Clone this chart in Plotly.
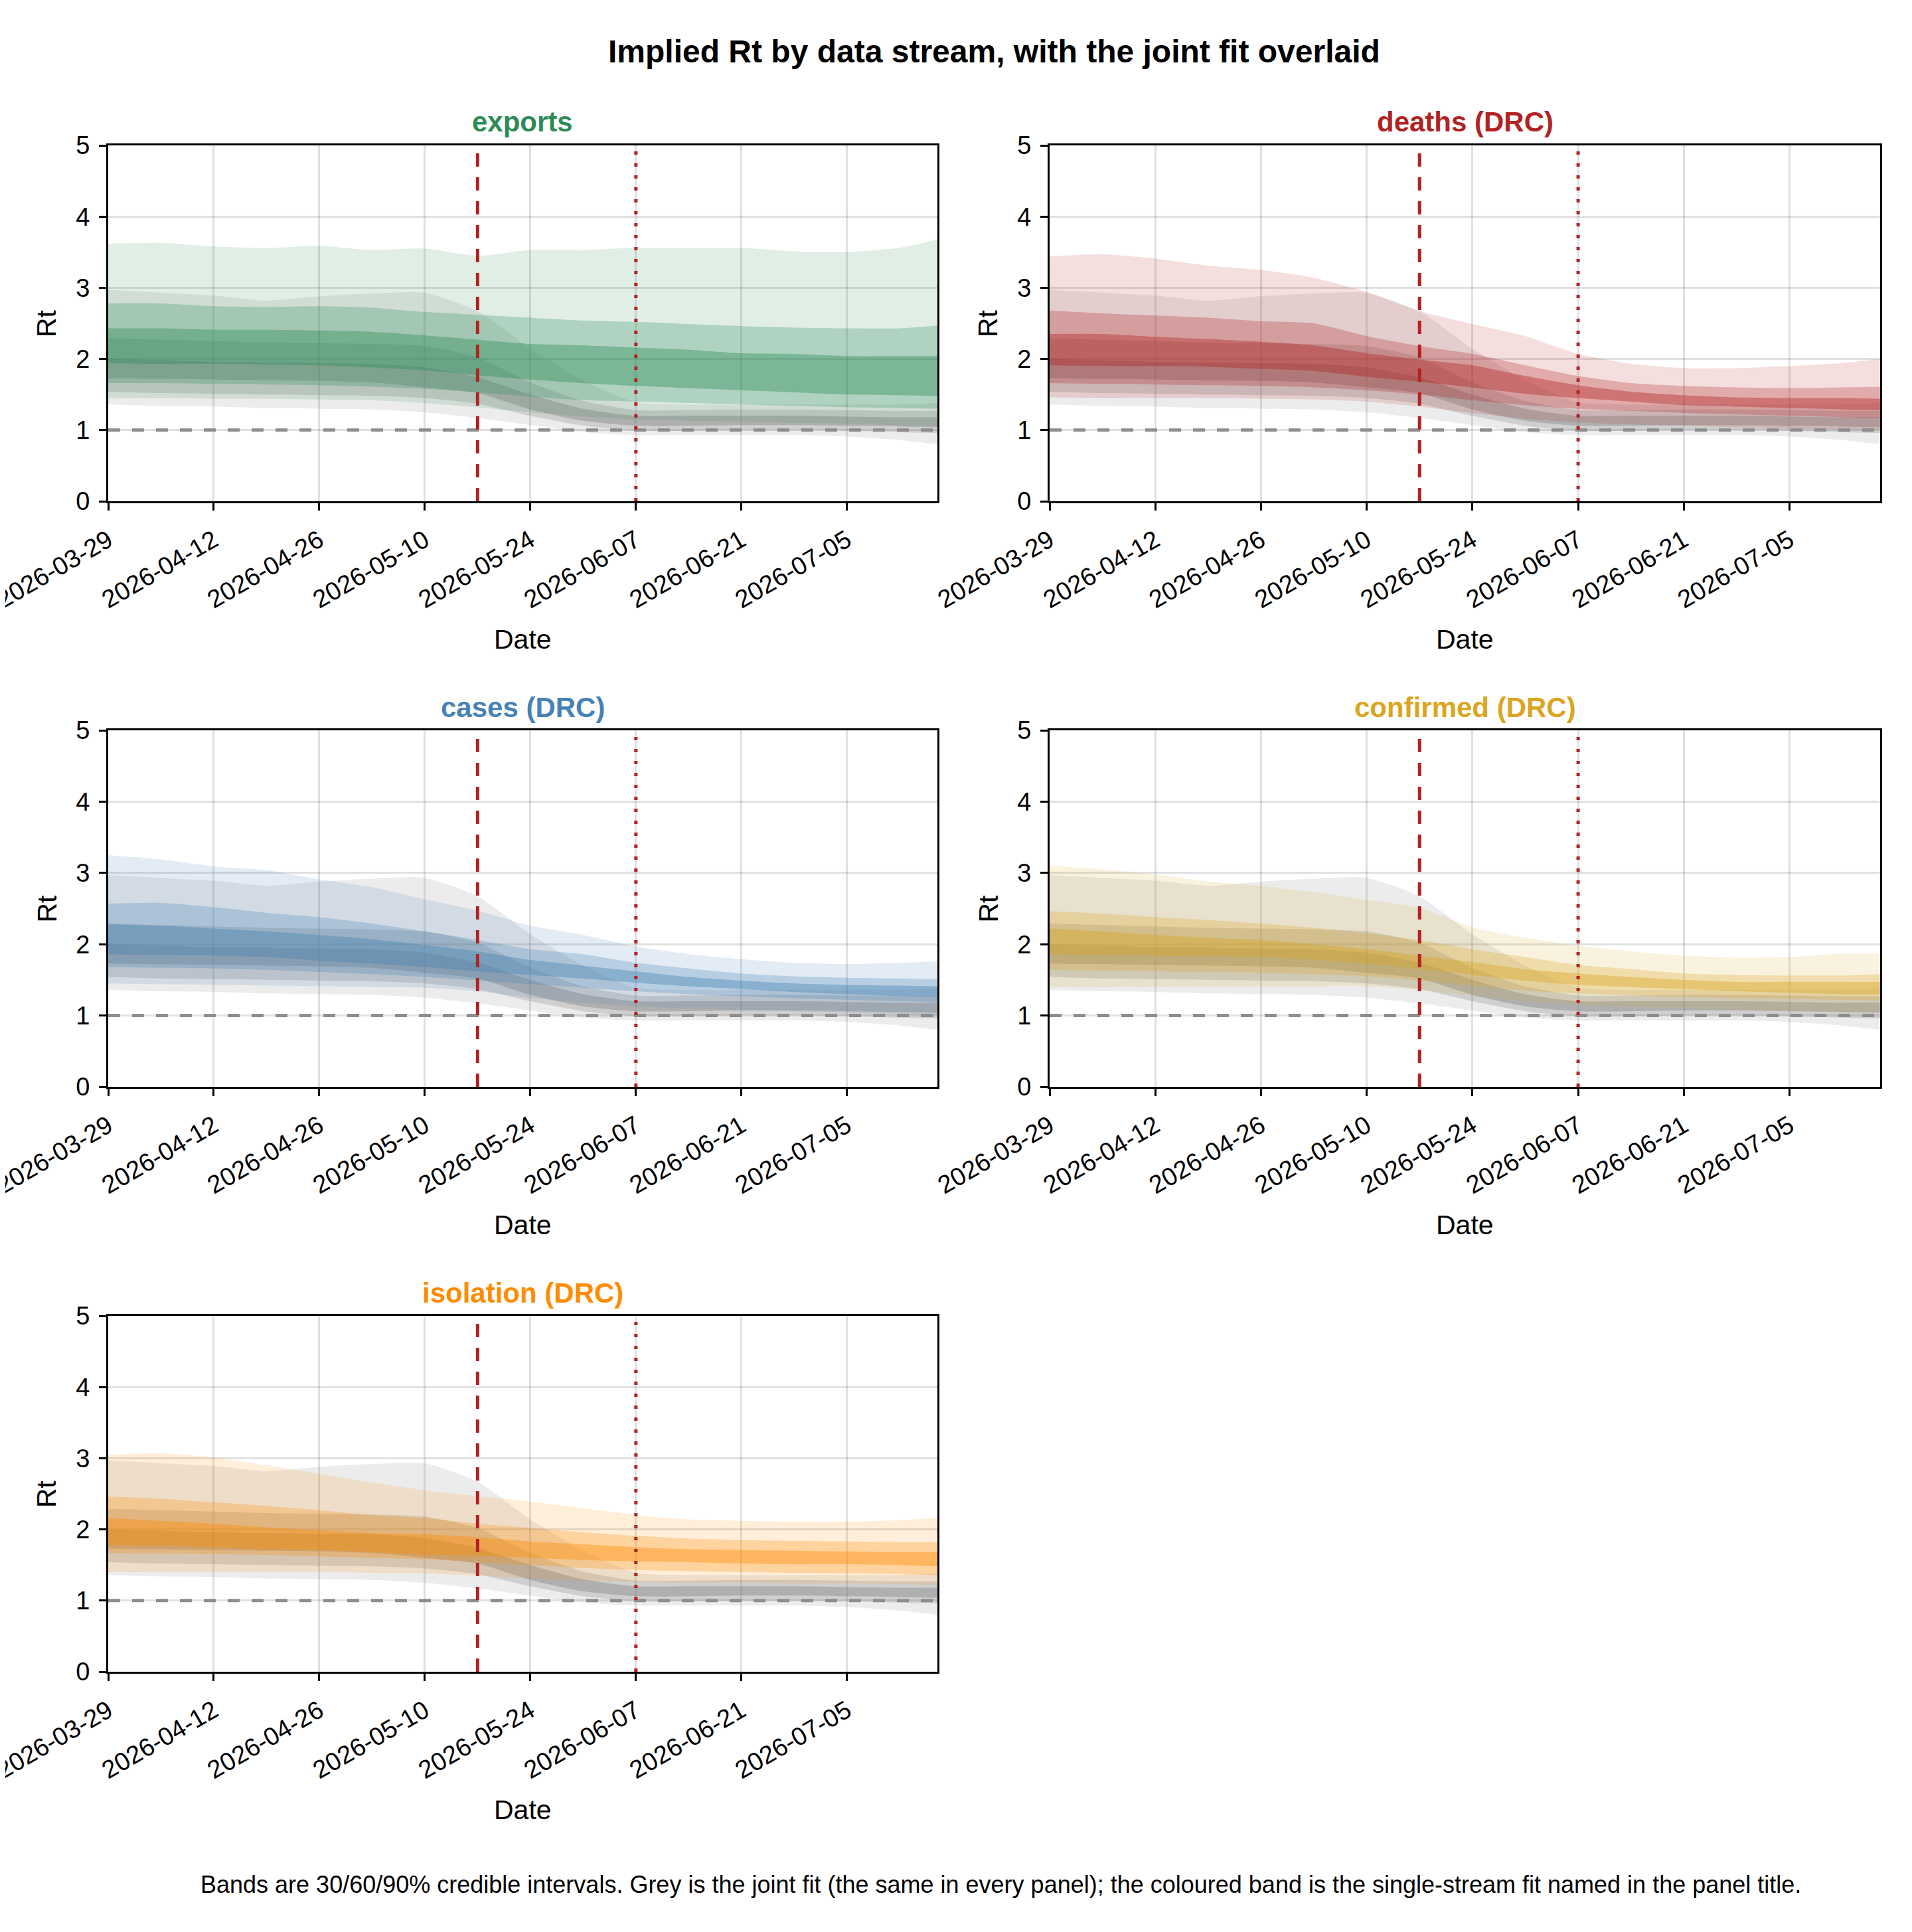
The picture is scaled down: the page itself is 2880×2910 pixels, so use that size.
import plotly.graph_objects as go
from plotly.subplots import make_subplots

# weekly time points, 2026-03-29 .. 2026-07-17
dates = ['2026-03-29', '2026-04-05', '2026-04-12', '2026-04-19', '2026-04-26',
         '2026-05-03', '2026-05-10', '2026-05-17', '2026-05-24', '2026-05-31',
         '2026-06-07', '2026-06-14', '2026-06-21', '2026-06-28', '2026-07-05',
         '2026-07-12', '2026-07-17']

# joint fit (grey, same in every panel)
joint_lo90 = [1.36, 1.34, 1.33, 1.31, 1.30, 1.29, 1.25, 1.17, 1.07, 0.97, 0.93, 0.93, 0.93, 0.93, 0.91, 0.86, 0.80]
joint_hi90 = [2.97, 2.93, 2.89, 2.82, 2.88, 2.92, 2.93, 2.67, 2.14, 1.70, 1.39, 1.36, 1.36, 1.36, 1.36, 1.36, 1.38]
joint_lo60 = [1.54, 1.52, 1.51, 1.50, 1.49, 1.48, 1.45, 1.37, 1.20, 1.06, 0.99, 0.99, 1.00, 1.00, 0.99, 0.97, 0.96]
joint_hi60 = [2.29, 2.27, 2.25, 2.23, 2.22, 2.21, 2.18, 2.02, 1.67, 1.41, 1.28, 1.28, 1.29, 1.29, 1.28, 1.27, 1.27]
joint_lo30 = [1.73, 1.72, 1.71, 1.70, 1.69, 1.67, 1.60, 1.52, 1.29, 1.13, 1.06, 1.06, 1.07, 1.07, 1.06, 1.05, 1.04]
joint_hi30 = [2.00, 1.98, 1.96, 1.95, 1.94, 1.93, 1.88, 1.74, 1.50, 1.30, 1.20, 1.20, 1.20, 1.20, 1.19, 1.18, 1.18]

# exports
exports_lo90 = [1.45, 1.45, 1.44, 1.44, 1.43, 1.42, 1.38, 1.32, 1.25, 1.19, 1.15, 1.13, 1.12, 1.10, 1.09, 1.07, 1.06]
exports_hi90 = [3.62, 3.63, 3.58, 3.56, 3.59, 3.53, 3.55, 3.45, 3.53, 3.53, 3.56, 3.56, 3.56, 3.51, 3.50, 3.56, 3.68]
exports_lo60 = [1.66, 1.66, 1.65, 1.64, 1.63, 1.61, 1.58, 1.53, 1.47, 1.42, 1.40, 1.38, 1.36, 1.34, 1.32, 1.31, 1.30]
exports_hi60 = [2.78, 2.78, 2.74, 2.73, 2.74, 2.72, 2.66, 2.62, 2.58, 2.54, 2.52, 2.49, 2.46, 2.44, 2.43, 2.43, 2.47]
exports_lo30 = [1.94, 1.93, 1.93, 1.92, 1.91, 1.88, 1.84, 1.77, 1.71, 1.66, 1.62, 1.59, 1.56, 1.53, 1.50, 1.49, 1.48]
exports_hi30 = [2.43, 2.43, 2.41, 2.41, 2.40, 2.38, 2.33, 2.27, 2.21, 2.19, 2.16, 2.13, 2.08, 2.07, 2.04, 2.04, 2.04]

# deaths (DRC)
deaths_lo90 = [1.46, 1.45, 1.45, 1.45, 1.44, 1.43, 1.40, 1.33, 1.24, 1.16, 1.11, 1.08, 1.06, 1.04, 1.02, 1.01, 1.00]
deaths_hi90 = [3.44, 3.47, 3.41, 3.31, 3.25, 3.14, 2.94, 2.67, 2.49, 2.32, 2.07, 1.93, 1.87, 1.87, 1.90, 1.94, 2.00]
deaths_lo60 = [1.66, 1.65, 1.64, 1.63, 1.62, 1.60, 1.56, 1.50, 1.42, 1.35, 1.30, 1.27, 1.24, 1.22, 1.20, 1.18, 1.17]
deaths_hi60 = [2.68, 2.64, 2.61, 2.58, 2.53, 2.50, 2.32, 2.18, 2.07, 1.91, 1.76, 1.66, 1.62, 1.60, 1.59, 1.60, 1.61]
deaths_lo30 = [1.91, 1.90, 1.90, 1.89, 1.86, 1.83, 1.75, 1.68, 1.60, 1.51, 1.45, 1.40, 1.35, 1.33, 1.31, 1.29, 1.28]
deaths_hi30 = [2.35, 2.35, 2.31, 2.28, 2.24, 2.19, 2.08, 1.99, 1.91, 1.76, 1.63, 1.54, 1.49, 1.46, 1.45, 1.45, 1.44]

# cases (DRC)
cases_lo90 = [1.45, 1.44, 1.43, 1.42, 1.41, 1.40, 1.39, 1.34, 1.25, 1.18, 1.13, 1.10, 1.08, 1.06, 1.04, 1.02, 1.00]
cases_hi90 = [3.25, 3.19, 3.09, 3.04, 2.91, 2.80, 2.63, 2.47, 2.26, 2.13, 1.97, 1.86, 1.79, 1.74, 1.72, 1.74, 1.76]
cases_lo60 = [1.68, 1.67, 1.66, 1.64, 1.61, 1.58, 1.54, 1.49, 1.44, 1.39, 1.34, 1.30, 1.27, 1.24, 1.22, 1.20, 1.19]
cases_hi60 = [2.57, 2.58, 2.52, 2.44, 2.38, 2.29, 2.18, 2.06, 1.93, 1.86, 1.74, 1.66, 1.59, 1.55, 1.53, 1.52, 1.51]
cases_lo30 = [1.86, 1.85, 1.84, 1.82, 1.77, 1.73, 1.68, 1.62, 1.57, 1.52, 1.46, 1.41, 1.37, 1.33, 1.30, 1.27, 1.26]
cases_hi30 = [2.28, 2.26, 2.22, 2.18, 2.13, 2.07, 1.99, 1.90, 1.78, 1.70, 1.62, 1.54, 1.49, 1.45, 1.43, 1.42, 1.41]

# confirmed (DRC)
confirmed_lo90 = [1.40, 1.40, 1.40, 1.41, 1.41, 1.41, 1.41, 1.36, 1.28, 1.20, 1.15, 1.12, 1.10, 1.08, 1.06, 1.05, 1.04]
confirmed_hi90 = [3.10, 3.05, 2.98, 2.88, 2.82, 2.73, 2.62, 2.51, 2.24, 2.09, 1.98, 1.90, 1.84, 1.81, 1.82, 1.87, 1.87]
confirmed_lo60 = [1.64, 1.63, 1.62, 1.61, 1.60, 1.58, 1.55, 1.49, 1.42, 1.35, 1.31, 1.28, 1.26, 1.24, 1.23, 1.22, 1.21]
confirmed_hi60 = [2.46, 2.43, 2.38, 2.34, 2.29, 2.23, 2.15, 2.06, 1.93, 1.82, 1.71, 1.65, 1.59, 1.57, 1.56, 1.56, 1.58]
confirmed_lo30 = [1.86, 1.85, 1.84, 1.83, 1.82, 1.78, 1.73, 1.65, 1.57, 1.49, 1.43, 1.40, 1.37, 1.34, 1.32, 1.30, 1.30]
confirmed_hi30 = [2.22, 2.18, 2.13, 2.09, 2.06, 2.00, 1.93, 1.84, 1.75, 1.65, 1.59, 1.54, 1.50, 1.47, 1.47, 1.47, 1.47]

# isolation (DRC)
isolation_lo90 = [1.40, 1.40, 1.40, 1.40, 1.40, 1.39, 1.38, 1.35, 1.31, 1.28, 1.26, 1.25, 1.25, 1.24, 1.24, 1.23, 1.22]
isolation_hi90 = [3.05, 3.07, 3.01, 2.90, 2.78, 2.66, 2.55, 2.47, 2.39, 2.30, 2.20, 2.14, 2.12, 2.11, 2.11, 2.13, 2.16]
isolation_lo60 = [1.67, 1.66, 1.65, 1.64, 1.62, 1.60, 1.58, 1.54, 1.50, 1.46, 1.43, 1.41, 1.40, 1.39, 1.38, 1.37, 1.36]
isolation_hi60 = [2.46, 2.43, 2.38, 2.33, 2.27, 2.20, 2.16, 2.08, 2.02, 1.96, 1.91, 1.87, 1.85, 1.84, 1.83, 1.82, 1.82]
isolation_lo30 = [1.78, 1.77, 1.75, 1.72, 1.71, 1.68, 1.64, 1.63, 1.60, 1.57, 1.55, 1.54, 1.52, 1.51, 1.51, 1.50, 1.48]
isolation_hi30 = [2.16, 2.12, 2.08, 2.03, 1.99, 1.95, 1.93, 1.89, 1.83, 1.79, 1.75, 1.72, 1.71, 1.70, 1.69, 1.68, 1.68]

intervention_date = '2026-05-17'
cutoff_date = '2026-06-07'

FONT = 'Liberation Sans, Arial, sans-serif'
OFF = 8  # page body margin
W, H = 2880 - 2 * OFF, 2910 - 2 * OFF
ALPHA = {90: 0.15, 60: 0.27, 30: 0.40}

joint = {90: (joint_lo90, joint_hi90), 60: (joint_lo60, joint_hi60), 30: (joint_lo30, joint_hi30)}
panels = [
    ('exports', (46, 139, 87), {90: (exports_lo90, exports_hi90), 60: (exports_lo60, exports_hi60), 30: (exports_lo30, exports_hi30)}),
    ('deaths (DRC)', (178, 34, 34), {90: (deaths_lo90, deaths_hi90), 60: (deaths_lo60, deaths_hi60), 30: (deaths_lo30, deaths_hi30)}),
    ('cases (DRC)', (70, 130, 180), {90: (cases_lo90, cases_hi90), 60: (cases_lo60, cases_hi60), 30: (cases_lo30, cases_hi30)}),
    ('confirmed (DRC)', (218, 165, 32), {90: (confirmed_lo90, confirmed_hi90), 60: (confirmed_lo60, confirmed_hi60), 30: (confirmed_lo30, confirmed_hi30)}),
    ('isolation (DRC)', (255, 140, 0), {90: (isolation_lo90, isolation_hi90), 60: (isolation_lo60, isolation_hi60), 30: (isolation_lo30, isolation_hi30)}),
]

# pixel boxes of the panels (page coordinates)
col_px = [(163, 1412), (1581, 2832)]
row_px = [(219, 755), (1100, 1637), (1982, 2518)]


def px(x):
    return (x - OFF) / W


def py(y):
    return 1 - (y - OFF) / H


fig = make_subplots(rows=3, cols=2, specs=[[{}, {}], [{}, {}], [{}, None]])


def add_band(lo, hi, rgb, alpha, row, col):
    fig.add_trace(go.Scatter(x=dates, y=lo, mode='lines', line=dict(width=0, shape='spline', smoothing=0.6),
                             showlegend=False, hoverinfo='skip'), row=row, col=col)
    fig.add_trace(go.Scatter(x=dates, y=hi, mode='lines', line=dict(width=0, shape='spline', smoothing=0.6),
                             fill='tonexty', fillcolor='rgba(%d,%d,%d,%.2f)' % (rgb + (alpha,)),
                             showlegend=False, hoverinfo='skip'), row=row, col=col)


def label(text, x, y, size, color='black', angle=0):
    return dict(text=text, x=px(x), y=py(y), xref='paper', yref='paper', xanchor='center', yanchor='middle',
                textangle=angle, showarrow=False, font=dict(size=size, color=color, family=FONT))


annotations = []
for i, (name, rgb, bands) in enumerate(panels):
    row, col = i // 2 + 1, i % 2 + 1
    for lvl in (90, 60, 30):
        add_band(joint[lvl][0], joint[lvl][1], (128, 128, 128), ALPHA[lvl], row, col)
    for lvl in (90, 60, 30):
        add_band(bands[lvl][0], bands[lvl][1], rgb, ALPHA[lvl], row, col)

    fig.add_hline(y=1, line=dict(color='#8e8e8e', width=5, dash='18px,18px'), row=row, col=col)
    fig.add_vline(x=intervention_date, line=dict(color='#b22222', width=5, dash='20px,16px'), row=row, col=col)
    fig.add_vline(x=cutoff_date, line=dict(color='#b22222', width=5, dash='5px,13px'), row=row, col=col)

    x0, x1 = col_px[col - 1]
    y0, y1 = row_px[row - 1]
    fig.update_xaxes(domain=[px(x0), px(x1)], row=row, col=col)
    fig.update_yaxes(domain=[py(y1), py(y0)], row=row, col=col)

    cx = (x0 + x1) / 2
    annotations.append(label('<b>%s</b>' % name, cx, y0 - 35, 42, 'rgb(%d,%d,%d)' % rgb))
    annotations.append(label('Date', cx, y1 + 208, 41))
    annotations.append(label('Rt', x0 - 93, (y0 + y1) / 2, 41, angle=-90))

# title and note are centred over the span of the panel grid
grid_cx = (col_px[0][0] + col_px[1][1]) / 2
annotations.append(label('<b>Implied Rt by data stream, with the joint fit overlaid</b>', grid_cx, 78, 48))
annotations.append(label('Bands are 30/60/90% credible intervals. Grey is the joint fit (the same in every panel); '
                         'the coloured band is the single-stream fit named in the panel title.', grid_cx + 10, 2838, 36))

fig.update_xaxes(type='date', range=['2026-03-29', '2026-07-17'], tick0='2026-03-29', dtick=14 * 86400000,
                 tickformat='%Y-%m-%d', tickangle=-30, tickfont=dict(size=38, color='black', family=FONT),
                 showgrid=True, gridcolor='rgba(0,0,0,0.12)', gridwidth=2.5,
                 showline=True, linecolor='black', linewidth=3, mirror=True, automargin=False,
                 ticklabeloverflow='allow', ticklabelstandoff=8,
                 ticks='outside', ticklen=11, tickwidth=3, tickcolor='black', zeroline=False)
fig.update_yaxes(range=[0, 5], tick0=0, dtick=1, tickfont=dict(size=38, color='black', family=FONT),
                 showgrid=True, gridcolor='rgba(0,0,0,0.12)', gridwidth=2.5,
                 showline=True, linecolor='black', linewidth=3, mirror=True, automargin=False,
                 ticks='outside', ticklen=11, tickwidth=3, tickcolor='black', zeroline=False,
                 ticklabelstandoff=6)

fig.update_layout(width=W, height=H, margin=dict(l=0, r=0, t=0, b=0, autoexpand=False),
                  paper_bgcolor='white', plot_bgcolor='white', showlegend=False,
                  font=dict(family=FONT, color='black'), annotations=annotations)

fig.write_html('out.html')
